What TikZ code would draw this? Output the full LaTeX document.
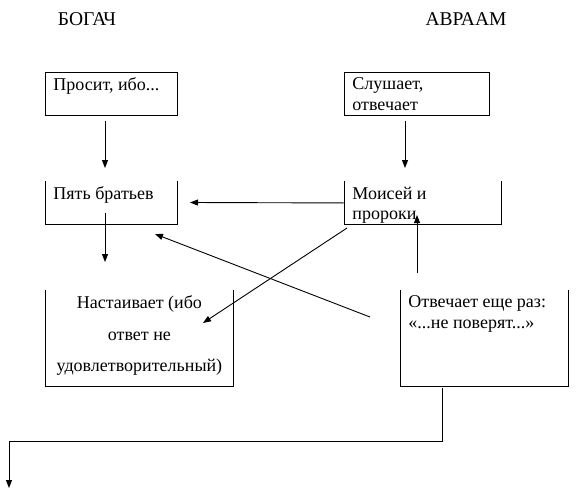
\documentclass[tikz,border=0pt]{standalone}
\usepackage{fontspec}
\setmainfont{Liberation Serif}
\usetikzlibrary{
    arrows.meta,
    positioning,
    calc
}

\begin{document}
\begin{tikzpicture}[x=1pt, y=-1pt, line width=0.9pt,
    arr/.style={-{Triangle[length=8pt,width=6pt]}},
    head/.style={font=\fontsize{19.5}{22}\selectfont},
    cell/.style={anchor=north west, inner xsep=8pt, inner ysep=5.5pt,
                 font=\fontsize{18}{20.7}\selectfont}]
    \useasboundingbox (0,0) rectangle (577,495);

    %% Headings
        \node[head] (bogach) at (87,19) {БОГАЧ};
        \node[head] (avraam) at (466,19) {АВРААМ};

    %% Boxes
        \node[cell, draw] (prosit) at (45,72)
              {\parbox[t][32pt][t]{116pt}{Просит, ибо...}};
        \node[cell, draw] (slushaet) at (344,72)
              {\parbox[t][32pt][t]{129pt}{Слушает,\\отвечает}};
        \node[cell] (bratya) at (45,181)
              {\parbox[t][32pt][t]{116pt}{Пять братьев}};
        \node[cell] (moisei) at (344,181)
              {\parbox[t][32pt][t]{141pt}{Моисей и\\пророки}};
        \node[cell] (nastaivaet) at (45,290)
              {\parbox[t][85pt][t]{172pt}{\centering\fontsize{18}{31.5}\selectfont
               Настаивает (ибо\\ответ не\\удовлетворительный)}};
        \node[cell] (otvechaet) at (400,290)
              {\parbox[t][85pt][t]{152pt}{Отвечает еще раз:\\«...не поверят...»}};

    %% Open tops
        \draw (bratya.north west) -- (bratya.south west) -- (bratya.south east) -- (bratya.north east);
        \draw (moisei.north west) -- (moisei.south west) -- (moisei.south east) -- (moisei.north east);
        \draw (nastaivaet.north west) -- (nastaivaet.south west) -- (nastaivaet.south east) -- (nastaivaet.north east);
        \draw (otvechaet.north west) -- (otvechaet.south west) -- (otvechaet.south east) -- (otvechaet.north east);

    %% Connector ends
        \coordinate (a1s) at (105,121);
        \coordinate (a1e) at (105,168);
        \coordinate (a2s) at (405,121);
        \coordinate (a2e) at (405,168);
        \coordinate (a3e) at (190,202.5);
        \coordinate (a4s) at (105,213);
        \coordinate (a4e) at (105,262);
        \coordinate (a5s) at (347,228);
        \coordinate (a5e) at (203,323);
        \coordinate (a6s) at (370,317);
        \coordinate (a6e) at (155,234);
        \coordinate (a7s) at (417,273);
        \coordinate (a7e) at (417,215);
        \coordinate (a8s) at (442,388);
        \coordinate (a8m) at (442,441);
        \coordinate (a8n) at (9,441);
        \coordinate (a8e) at (9,488);

    %% Edges
        \draw[arr] (a1s) -- (a1e);
        \draw[arr] (a2s) -- (a2e);
        \draw[arr] (moisei.west) -- (a3e);
        \draw[arr] (a4s) -- (a4e);
        \draw[arr] (a5s) -- (a5e);
        \draw[arr] (a6s) -- (a6e);
        \draw[arr] (a7s) -- (a7e);
        \draw[arr] (a8s) -- (a8m) -- (a8n) -- (a8e);
\end{tikzpicture}
\end{document}
